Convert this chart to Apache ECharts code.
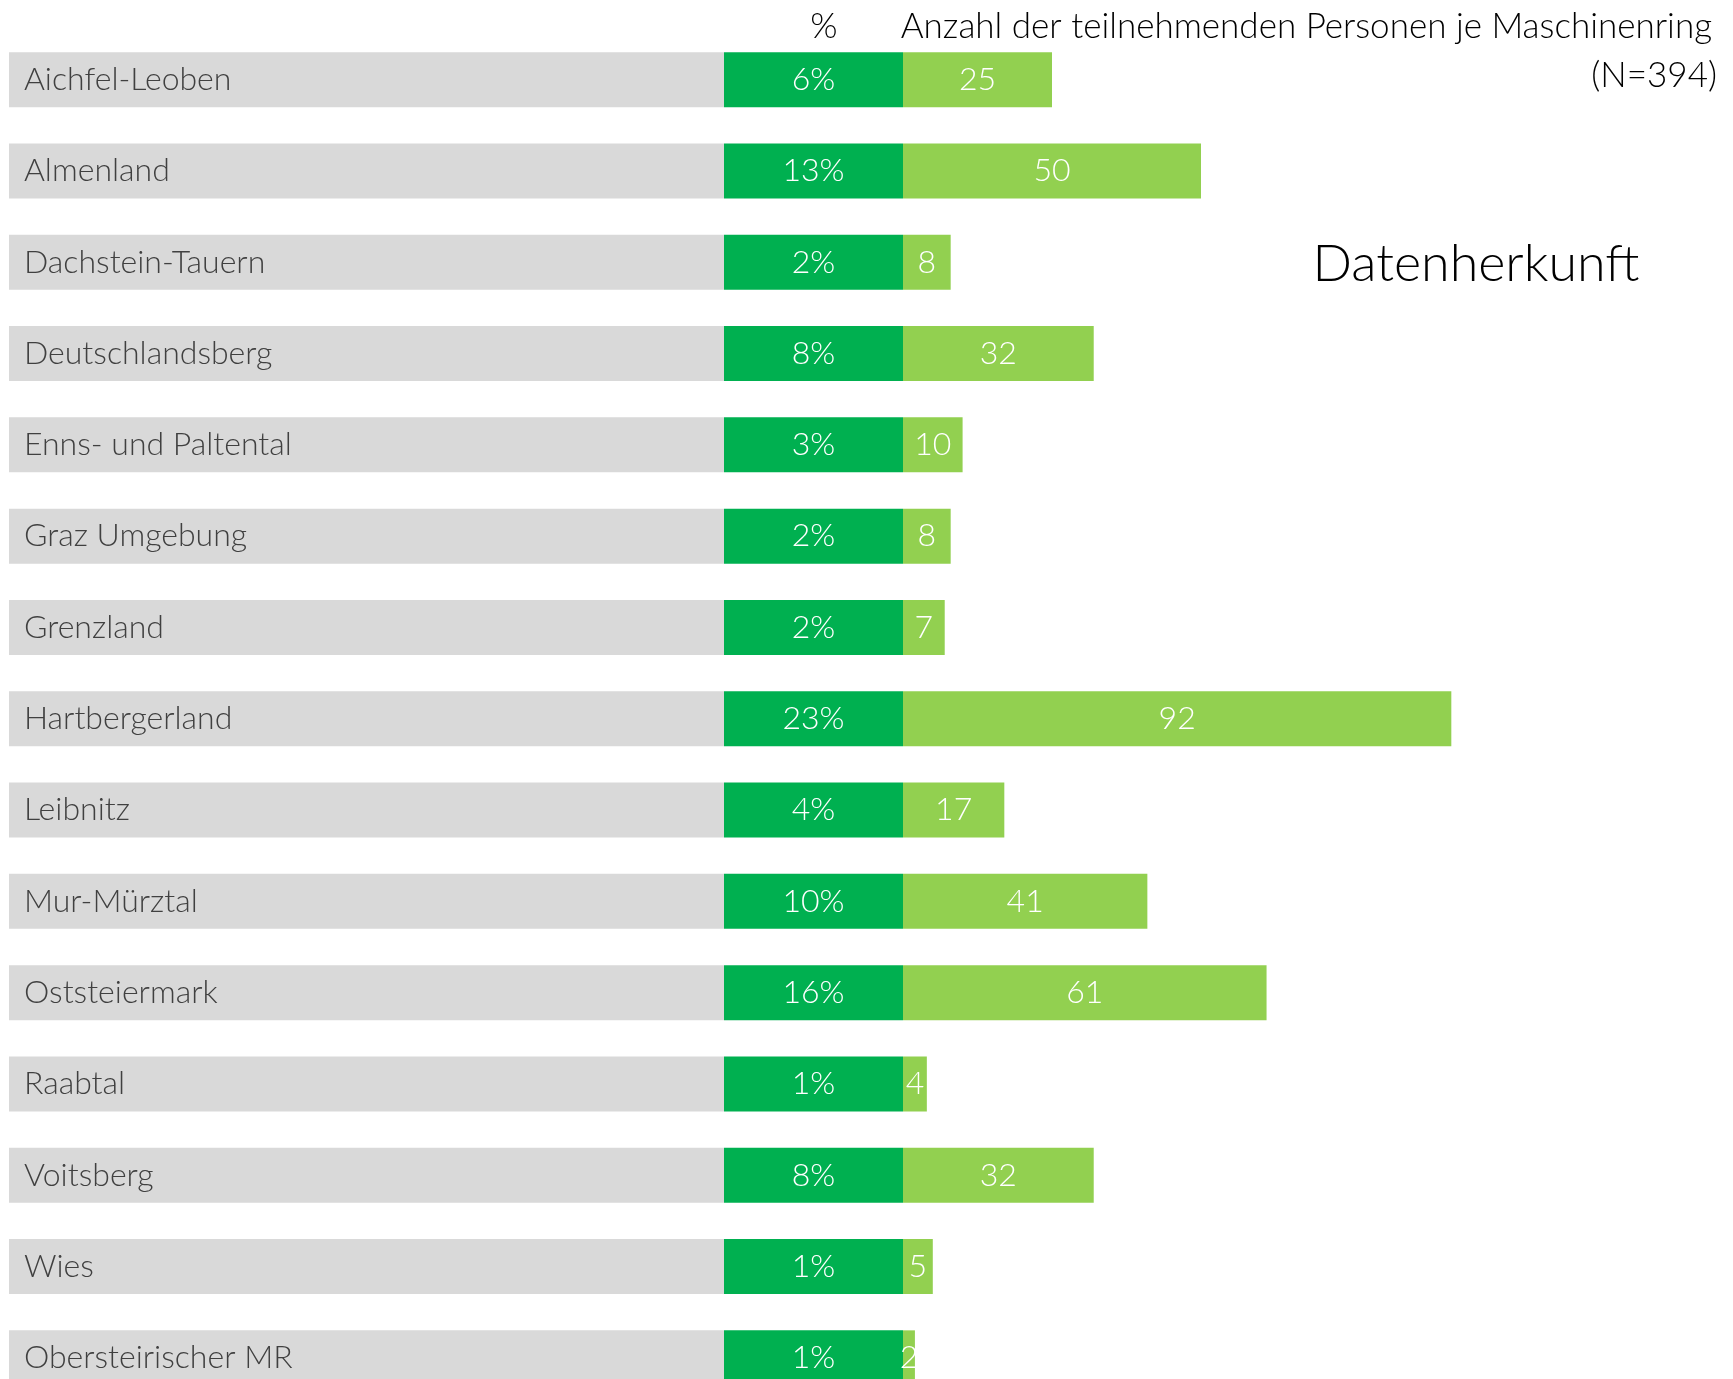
<!DOCTYPE html>
<html>
<head>
<meta charset="utf-8">
<title>Datenherkunft</title>
<script src="https://cdn.jsdelivr.net/npm/echarts@6/dist/echarts.min.js"></script>
<style>
  html, body { margin: 0; padding: 0; background: #fff; }
</style>
</head>
<body>
<div id="main" style="width: 1733px; height: 1379px;"></div>
<script type="text/javascript">
  // Maschinenringe
  var rings = ['Aichfel-Leoben', 'Almenland', 'Dachstein-Tauern', 'Deutschlandsberg',
    'Enns- und Paltental', 'Graz Umgebung', 'Grenzland', 'Hartbergerland', 'Leibnitz',
    'Mur-Mürztal', 'Oststeiermark', 'Raabtal', 'Voitsberg', 'Wies', 'Obersteirischer MR'];
  // Anteil in %
  var percents = [6, 13, 2, 8, 3, 2, 2, 23, 4, 10, 16, 1, 8, 1, 1];
  // Anzahl der teilnehmenden Personen
  var counts = [25, 50, 8, 32, 10, 8, 7, 92, 17, 41, 61, 4, 32, 5, 2];

  var font = 'Lato';
  var weight = 300;
  var gridTop = 34, rowH = 91.3;
  var gridH = rowH * rings.length;

  var myChart = echarts.init(document.getElementById('main'));

  function yAxis(idx) {
    return {
      type: 'category', gridIndex: idx, data: rings, inverse: true,
      axisLine: { show: false }, axisTick: { show: false }, axisLabel: { show: false }
    };
  }
  function xAxis(idx, max) {
    return {
      type: 'value', gridIndex: idx, min: 0, max: max,
      axisLine: { show: false }, axisTick: { show: false }, axisLabel: { show: false },
      splitLine: { show: false }
    };
  }
  var ones = rings.map(function () { return 1; });

  var txt = function (size) {
    return { fontFamily: font, fontSize: size, fontWeight: weight, color: '#000' };
  };

  myChart.setOption({
    animation: false,
    title: [
      { text: '%', left: 819, top: 22, textAlign: 'center', textVerticalAlign: 'middle',
        textStyle: txt(35) },
      { text: 'Anzahl der teilnehmenden Personen je Maschinenring', right: 16, top: 4,
        textStyle: txt(35) },
      { text: '(N=394)', right: 11, top: 53, textStyle: txt(35) },
      { text: 'Datenherkunft', left: 1471, top: 259, textAlign: 'center', textVerticalAlign: 'middle',
        textStyle: txt(52) }
    ],
    grid: [
      { left: 9, top: gridTop, width: 715, height: gridH, outerBoundsMode: 'none' },
      { left: 724, top: gridTop, width: 179, height: gridH, outerBoundsMode: 'none' },
      { left: 903, top: gridTop, width: 596, height: gridH, outerBoundsMode: 'none' }
    ],
    xAxis: [xAxis(0, 1), xAxis(1, 1), xAxis(2, 100)],
    yAxis: [yAxis(0), yAxis(1), yAxis(2)],
    series: [
      {
        type: 'bar', xAxisIndex: 0, yAxisIndex: 0, data: ones, barWidth: 55,
        itemStyle: { color: '#d9d9d9' },
        label: { show: true, position: 'insideLeft', distance: 15, formatter: '{b}',
          fontFamily: font, fontWeight: weight, fontSize: 32, color: '#404040' }
      },
      {
        type: 'bar', xAxisIndex: 1, yAxisIndex: 1, data: ones, barWidth: 55,
        itemStyle: { color: '#00b050' },
        label: { show: true, position: 'inside',
          formatter: function (p) { return percents[p.dataIndex] + '%'; },
          fontFamily: font, fontWeight: weight, fontSize: 32, color: '#fff' }
      },
      {
        type: 'bar', xAxisIndex: 2, yAxisIndex: 2, data: counts, barWidth: 55,
        itemStyle: { color: '#92d050' },
        label: { show: true, position: 'inside', fontFamily: font, fontWeight: weight,
          fontSize: 32, color: '#fff' }
      }
    ]
  });
</script>
</body>
</html>
